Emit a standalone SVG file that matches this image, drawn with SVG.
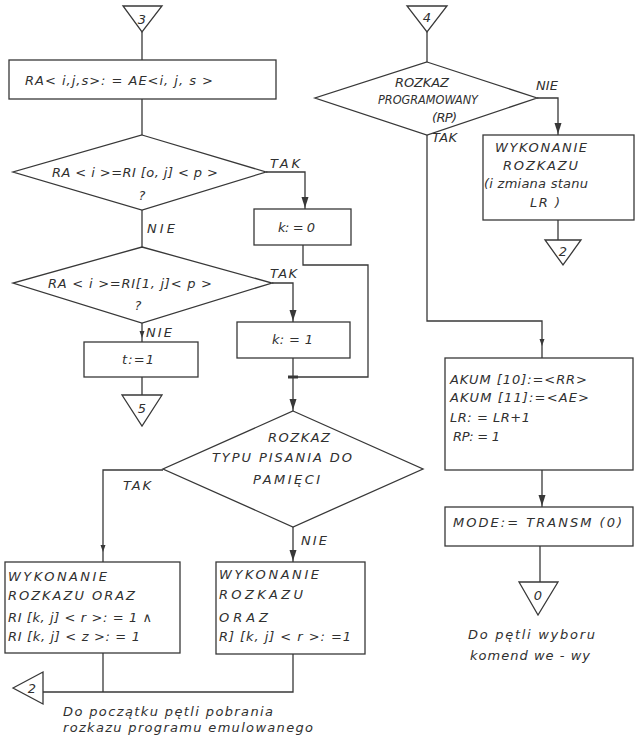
<svg xmlns="http://www.w3.org/2000/svg" width="636" height="735" viewBox="0 0 636 735">
<style>
.n{fill:none;stroke:#383838;stroke-width:1.3}
.c{fill:none;stroke:#383838;stroke-width:1.3}
text{font-family:"DejaVu Sans","Liberation Sans",sans-serif;font-style:italic;font-size:13px;fill:#303030}
.m{text-anchor:middle}
.ah{fill:#383838}
</style>
<defs>
<path id="ah" class="ah" d="M-3.5,-11 L3.5,-11 L0,0 Z"/>
<path id="ahs" class="ah" d="M-2.5,-7 L2.5,-7 L0,0 Z"/>
</defs>
<rect width="636" height="735" fill="#ffffff"/>

<g id="connectors">
<path class="c" d="M142,32 V60"/>
<path class="c" d="M142,99 V135"/>
<path class="c" d="M266,172 H305 V209"/>
<path class="c" d="M142,210 V247"/>
<path class="c" d="M272,283 H293 V322"/>
<path class="c" d="M303,245 V265 H368 V377 H293"/>
<path class="c" d="M293,358 V411"/>
<path class="c" d="M142,323 V342"/>
<path class="c" d="M142,377 V395"/>
<path class="c" d="M163,470 H103 V562"/>
<path class="c" d="M293,527 V562"/>
<path class="c" d="M103,653 V692"/>
<path class="c" d="M293,654 V692 H43"/>
<path class="c" d="M427,32 V62"/>
<path class="c" d="M537,98 H558 V135"/>
<path class="c" d="M427,135 V321 H542 V358"/>
<path class="c" d="M558,220 V240"/>
<path class="c" d="M542,470 V507"/>
<path class="c" d="M540,546 V582"/>
<use href="#ah" x="305" y="208"/>
<use href="#ah" x="293" y="321"/>
<use href="#ah" x="293" y="410"/>
<use href="#ahs" x="142" y="338"/>
<use href="#ah" x="558" y="134"/>
<use href="#ah" x="293" y="561"/>
<use href="#ahs" x="103" y="552"/>
<use href="#ahs" x="542" y="346"/>
<use href="#ah" x="542" y="506"/>
<rect x="288" y="375.5" width="10" height="3" fill="#383838"/>
</g>

<g id="t3"><path class="n" d="M123,6 H162 L142,32 Z"/><text class="m" x="142" y="24">3</text></g>
<g id="box1"><rect class="n" x="9" y="60" width="267" height="39"/><text x="25" y="85" textLength="188" lengthAdjust="spacing">RA&lt; i,j,s&gt;: = AE&lt;i, j, s &gt;</text></g>
<g id="d1"><path class="n" d="M142,135 L266,172 L142,210 L13,172 Z"/><text x="52" y="177" textLength="166" lengthAdjust="spacing">RA &lt; i &gt;=RI [o, j] &lt; p &gt;</text><text class="m" x="142" y="200">?</text></g>
<text x="270" y="168" textLength="30" lengthAdjust="spacing">TAK</text>
<g id="k0"><rect class="n" x="254" y="209" width="97" height="36"/><text x="278" y="232" textLength="37" lengthAdjust="spacing">k: = 0</text></g>
<text x="147" y="233" textLength="28" lengthAdjust="spacing">NIE</text>
<g id="d2"><path class="n" d="M142,247 L272,283 L142,323 L13,283 Z"/><text x="48" y="288" textLength="164" lengthAdjust="spacing">RA &lt; i &gt;=RI[1, j]&lt; p &gt;</text><text class="m" x="138" y="310">?</text></g>
<text x="270" y="278" textLength="27" lengthAdjust="spacing">TAK</text>
<text x="146" y="337" textLength="26" lengthAdjust="spacing">NIE</text>
<g id="k1"><rect class="n" x="237" y="322" width="113" height="36"/><text x="272" y="344" textLength="41" lengthAdjust="spacing">k: = 1</text></g>
<g id="t1"><rect class="n" x="84" y="342" width="114" height="35"/><text x="122" y="364" font-size="12" textLength="32" lengthAdjust="spacing">t:=1</text></g>
<g id="t5"><path class="n" d="M122,395 H162 L142,426 Z"/><text class="m" x="142" y="413">5</text></g>
<g id="d3"><path class="n" d="M293,411 L423,469 L293,527 L163,469 Z"/><text x="268" y="442" textLength="62" lengthAdjust="spacing">ROZKAZ</text><text x="212" y="462" textLength="140" lengthAdjust="spacing">TYPU PISANIA  DO</text><text x="253" y="484" textLength="67" lengthAdjust="spacing">PAMIĘCI</text></g>
<text x="123" y="490" textLength="28" lengthAdjust="spacing">TAK</text>
<text x="301" y="545" textLength="26" lengthAdjust="spacing">NIE</text>
<g id="bl"><rect class="n" x="5" y="562" width="175" height="91"/><text x="8" y="581" textLength="99" lengthAdjust="spacing">WYKONANIE</text><text x="8" y="600" textLength="127" lengthAdjust="spacing">ROZKAZU  ORAZ</text><text x="8" y="622" textLength="144" lengthAdjust="spacing">RI [k, j] &lt; r &gt;: = 1 ∧</text><text x="8" y="641" textLength="132" lengthAdjust="spacing">RI [k, j] &lt; z &gt;: = 1</text></g>
<g id="br"><rect class="n" x="216" y="562" width="149" height="92"/><text x="219" y="579" textLength="100" lengthAdjust="spacing">WYKONANIE</text><text x="219" y="599" textLength="84" lengthAdjust="spacing">ROZKAZU</text><text x="219" y="622" textLength="49" lengthAdjust="spacing">ORAZ</text><text x="219" y="641" textLength="132" lengthAdjust="spacing">R] [k, j]   &lt; r &gt;: =1</text></g>
<g id="t2l"><path class="n" d="M13,688 L43,672 V704 Z"/><text class="m" x="32" y="693">2</text></g>
<g id="note1"><text x="63" y="716" textLength="210" lengthAdjust="spacing">Do początku pętli pobrania</text><text x="63" y="732" textLength="250" lengthAdjust="spacing">rozkazu programu emulowanego</text></g>

<g id="t4"><path class="n" d="M407,6 H447 L427,32 Z"/><text class="m" x="427" y="22">4</text></g>
<g id="drp"><path class="n" d="M427,62 L537,98 L427,135 L315,98 Z"/><text x="395" y="87" textLength="54" lengthAdjust="spacing">ROZKAZ</text><text x="378" y="104" font-size="11" textLength="100" lengthAdjust="spacingAndGlyphs">PROGRAMOWANY</text><text x="432" y="122" font-size="12" textLength="25" lengthAdjust="spacing">(RP)</text></g>
<text x="536" y="90" textLength="22" lengthAdjust="spacing">NIE</text>
<text x="432" y="142" textLength="25" lengthAdjust="spacing">TAK</text>
<g id="bw"><rect class="n" x="483" y="135" width="151" height="85"/><text x="495" y="152" textLength="92" lengthAdjust="spacing">WYKONANIE</text><text x="503" y="170" textLength="75" lengthAdjust="spacing">ROZKAZU</text><text x="484" y="188" textLength="104" lengthAdjust="spacing">(i zmiana stanu</text><text x="530" y="207" textLength="30" lengthAdjust="spacing">LR )</text></g>
<g id="t2r"><path class="n" d="M545,240 H581 L563,265 Z"/><text class="m" x="563" y="256">2</text></g>
<g id="bak"><rect class="n" x="445" y="358" width="188" height="112"/><text x="450" y="384" textLength="137" lengthAdjust="spacing">AKUM [10]:=&lt;RR&gt;</text><text x="450" y="402" textLength="139" lengthAdjust="spacing">AKUM [11]:=&lt;AE&gt;</text><text x="450" y="422" textLength="80" lengthAdjust="spacing">LR: = LR+1</text><text x="453" y="441" textLength="47" lengthAdjust="spacing">RP: = 1</text></g>
<g id="bmode"><rect class="n" x="445" y="507" width="188" height="39"/><text x="453" y="527" textLength="169" lengthAdjust="spacing">MODE:= TRANSM (0)</text></g>
<g id="t0"><path class="n" d="M519,582 H558 L538,615 Z"/><text class="m" x="538" y="600">0</text></g>
<g id="note2"><text x="468" y="639" textLength="127" lengthAdjust="spacing">Do pętli wyboru</text><text x="470" y="660" textLength="120" lengthAdjust="spacing">komend we - wy</text></g>
</svg>
